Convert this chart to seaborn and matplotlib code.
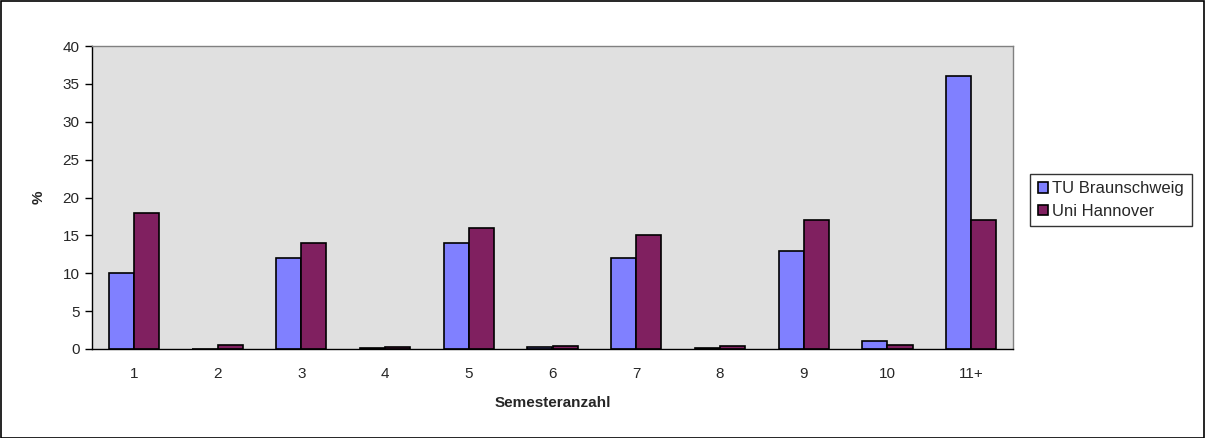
import matplotlib
matplotlib.use("Agg")
import matplotlib.pyplot as plt
import seaborn as sns
import pandas as pd
import numpy as np

semester = ["1", "2", "3", "4", "5", "6", "7", "8", "9", "10", "11+"]
tu_braunschweig = [10, 0, 12, 0.1, 14, 0.2, 12, 0.1, 13, 1.0, 36]
uni_hannover = [18, 0.5, 14, 0.3, 16, 0.4, 15, 0.4, 17, 0.5, 17]
series = ["TU Braunschweig", "Uni Hannover"]
colors = ["#8080FF", "#802060"]

df = pd.DataFrame({
    "Semesteranzahl": semester * 2,
    "value": tu_braunschweig + uni_hannover,
    "Hochschule": [series[0]] * len(semester) + [series[1]] * len(semester),
})

sns.set_style("white")
plt.rcParams["font.family"] = ["Liberation Sans", "DejaVu Sans"]

fig = plt.figure(figsize=(12.05, 4.38), dpi=100)
ax = fig.add_axes([92 / 1205, 1 - 349 / 438, (1013 - 92) / 1205, (349 - 46) / 438])
ax.set_facecolor("#E0E0E0")

sns.barplot(data=df, x="Semesteranzahl", y="value", hue="Hochschule",
            palette=colors, width=0.6, edgecolor="black", linewidth=1.2,
            saturation=1, ax=ax)

ax.set_ylim(0, 40)
ax.set_xlim(-0.5, len(semester) - 0.5)
ax.set_yticks(range(0, 41, 5))
ax.set_xticks(range(len(semester)))
ax.set_xticklabels(semester)
ax.set_xticks(np.arange(-0.5, len(semester), 1), minor=True)
ax.tick_params(axis="x", which="major", length=0, pad=13, labelsize=11)
ax.tick_params(axis="x", which="minor", length=5, width=1, color="black", direction="out")
ax.tick_params(axis="y", length=5, width=1, color="black", direction="out", labelsize=11,
               left=True, pad=4)

for side in ["top", "right"]:
    ax.spines[side].set_visible(True)
    ax.spines[side].set_color("#808080")
    ax.spines[side].set_linewidth(1)
for side in ["left", "bottom"]:
    ax.spines[side].set_color("black")
    ax.spines[side].set_linewidth(1)

ax.set_xlabel("Semesteranzahl", fontsize=11, fontweight="bold", labelpad=11)
ax.set_ylabel("%", fontsize=11, fontweight="bold", labelpad=12)

leg = ax.legend(loc="center left", bbox_to_anchor=(1030 / 1205, 1 - 200 / 438),
                bbox_transform=fig.transFigure, frameon=True, fancybox=False,
                edgecolor="black", fontsize=12, handlelength=0.6, handleheight=0.6,
                handletextpad=0.3, borderpad=0.45, labelspacing=0.45, borderaxespad=0)
leg.get_frame().set_linewidth(1)

fig.patches.append(plt.Rectangle((0.0008, 0.001), 0.998, 0.997, transform=fig.transFigure,
                                 fill=False, edgecolor="black", linewidth=1.2))

fig.savefig("out.png", dpi=100)
